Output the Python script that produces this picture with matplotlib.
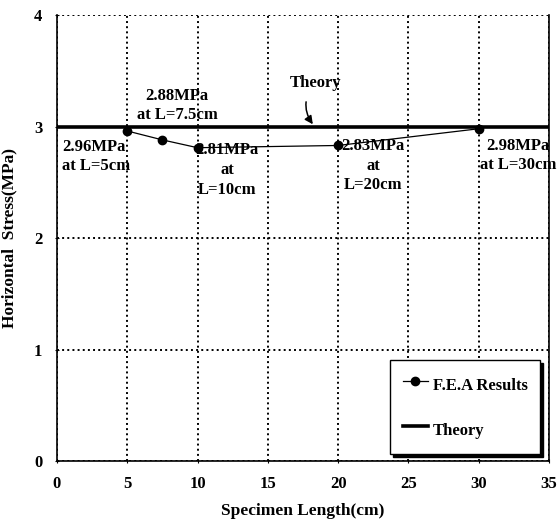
import matplotlib
matplotlib.use("Agg")
import matplotlib.pyplot as plt

# data
lengths = [5, 7.5, 10, 20, 30]
stress = [2.96, 2.88, 2.81, 2.83, 2.98]
theory_x = [0, 35]
theory_y = [3.0, 3.0]

x_ticks = [0, 5, 10, 15, 20, 25, 30, 35]
y_ticks = [0, 1, 2, 3, 4]

plt.rcParams['font.family'] = ['Liberation Serif', 'DejaVu Serif']
plt.rcParams['font.weight'] = 'bold'

fig = plt.figure(figsize=(5.57, 5.27), dpi=100)
ax = fig.add_axes([0.1023, 0.1252, 0.8833, 0.8463])

ax.plot(theory_x, theory_y, color='black', linewidth=2.6, label='Theory', zorder=3)
ax.plot(lengths, stress, color='black', linewidth=0.9, marker='o', markersize=6,
        label='F.E.A Results', zorder=4)

ax.set_xlim(0, 35)
ax.set_ylim(0, 4)
ax.set_xticks(x_ticks)
ax.set_yticks(y_ticks)
ax.grid(True, color='black', linestyle=':', linewidth=1.4)
ax.tick_params(labelsize=12, length=3, direction='inout')
ax.tick_params(axis='x', pad=9)
ax.tick_params(axis='y', pad=9)
for lab in ax.get_xticklabels() + ax.get_yticklabels():
    lab.set_fontweight('bold')
ax.spines['top'].set_visible(False)
for s in ['left', 'bottom', 'right']:
    ax.spines[s].set_linewidth(1.2)

ax.set_xlabel('Specimen Length(cm)', fontsize=12.5, fontweight='bold', labelpad=8)
ax.set_ylabel('Horizontal  Stress(MPa)', fontsize=12.5, fontweight='bold', labelpad=12)

fs = 12
ax.text(8.55, 3.19, '2.88MPa\nat L=7.5cm', ha='center', va='center', fontsize=fs,
        fontweight='bold', linespacing=1.25)
ax.text(0.36, 2.73, '2.96MPa\nat L=5cm', ha='left', va='center', fontsize=fs,
        fontweight='bold', linespacing=1.25)
ax.text(12.1, 2.61, '2.81MPa\nat\nL=10cm', ha='center', va='center', fontsize=fs,
        fontweight='bold', linespacing=1.35)
ax.text(22.5, 2.65, '2.83MPa\nat\nL=20cm', ha='center', va='center', fontsize=fs,
        fontweight='bold', linespacing=1.3)
ax.text(32.8, 2.74, '2.98MPa\nat L=30cm', ha='center', va='center', fontsize=fs,
        fontweight='bold', linespacing=1.25)

ax.annotate('Theory', xy=(18.2, 3.02), xytext=(18.4, 3.39), ha='center', va='center',
            fontsize=fs, fontweight='bold',
            arrowprops=dict(arrowstyle='-|>', color='black', lw=1.1,
                            connectionstyle='arc3,rad=0.4', shrinkA=6, shrinkB=0))

leg = ax.legend(handles=ax.get_lines()[::-1], loc='lower right', bbox_to_anchor=(0.982, 0.016),
                frameon=True, fancybox=False, shadow={'color': 'black', 'alpha': 1.0},
                fontsize=12, labelspacing=1.3, handlelength=1.5, handleheight=1.8,
                borderpad=0.75, handletextpad=0.3, borderaxespad=0)
leg.get_frame().set_edgecolor('black')
leg.get_frame().set_linewidth(1.0)
for t in leg.get_texts():
    t.set_fontweight('bold')

fig.savefig('out.png', dpi=100)
